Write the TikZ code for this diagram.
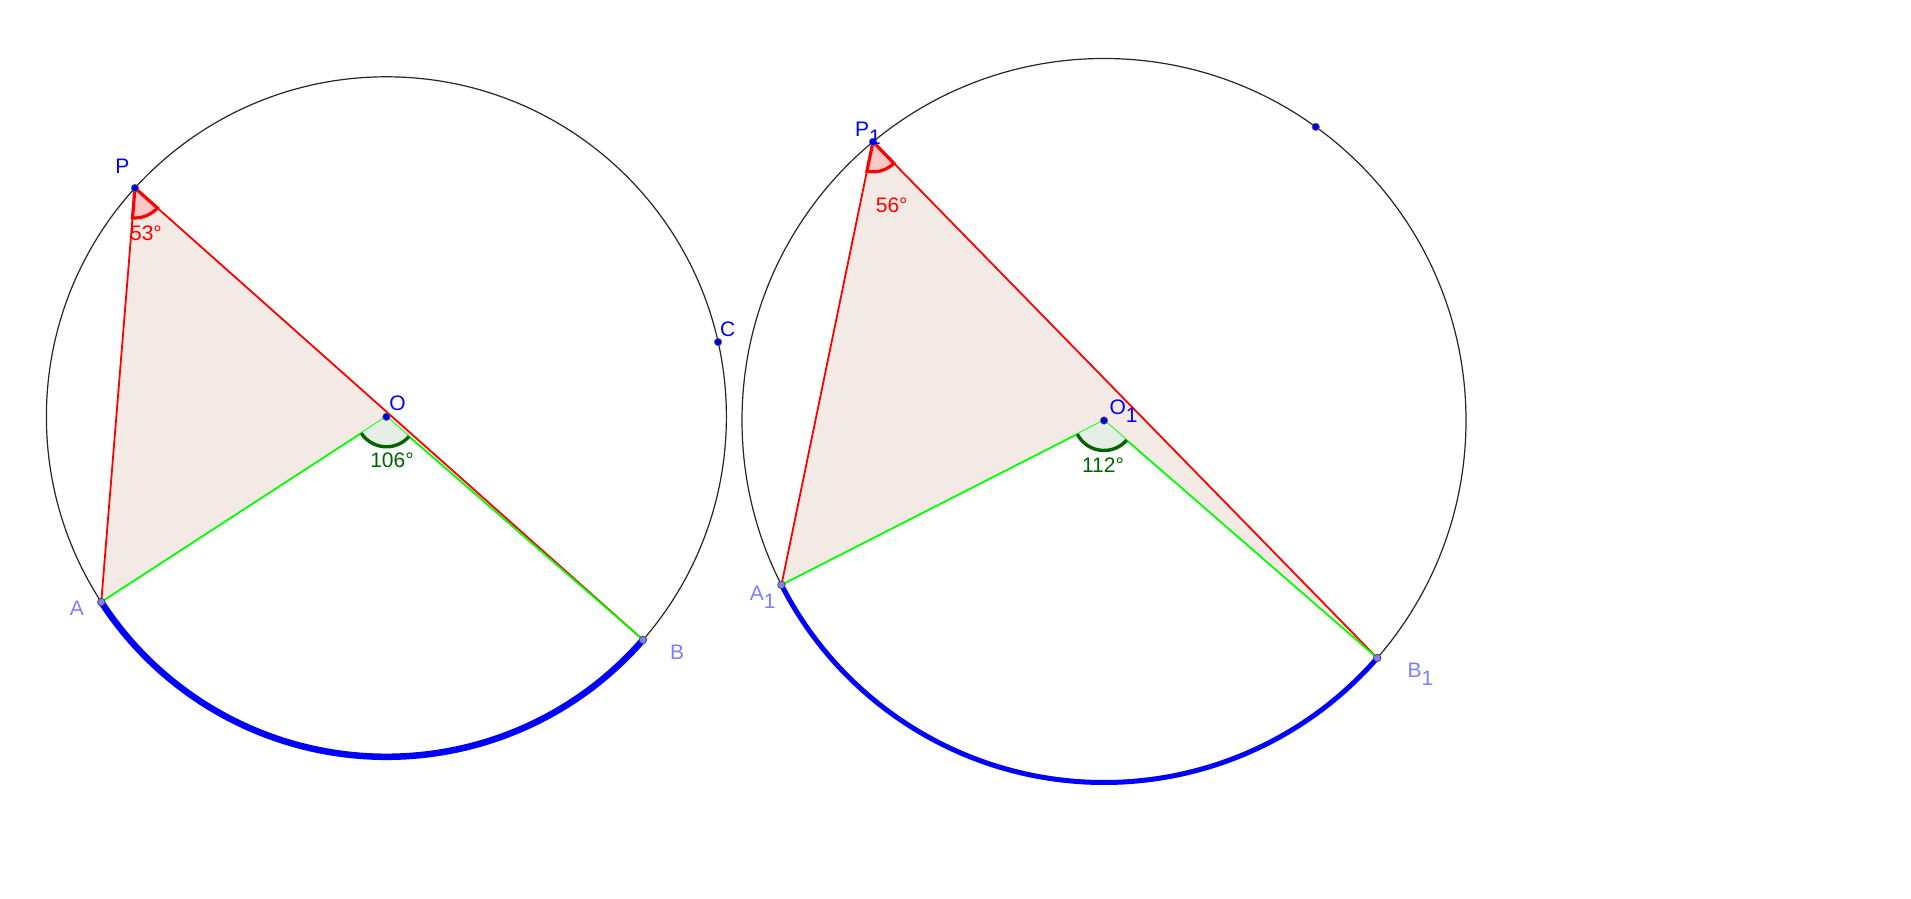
\documentclass[tikz,border=0pt]{standalone}
\usepackage{fontspec}
\setmainfont{Liberation Sans}
\usetikzlibrary{calc}
\definecolor{ptblue}{RGB}{0,0,255}
\definecolor{lblue}{RGB}{128,128,255}
\definecolor{polyfill}{RGB}{243,234,229}
\definecolor{dgreen}{RGB}{0,100,0}
\definecolor{lgreen}{RGB}{0,255,0}
\definecolor{angred}{RGB}{255,0,0}
\definecolor{arcblue}{RGB}{0,0,255}
\tikzset{
  circ/.style={line width=1.2pt, black!85},
  redseg/.style={line width=1.8pt, angred},
  greenseg/.style={line width=1.8pt, lgreen},
  bluearc/.style={line width=6.5pt, arcblue},
  redang/.style={line width=3.2pt, angred, fill=angred!22},
  greenangfill/.style={fill=dgreen!10},
  greenang/.style={line width=3.4pt, dgreen},
  darkpt/.style={circle, inner sep=0pt, minimum size=7.5pt, fill=ptblue!85!black, draw=black!60, line width=0.6pt},
  lightpt/.style={circle, inner sep=0pt, minimum size=7.5pt, fill=lblue, draw=black!70, line width=0.8pt},
  lbl/.style={inner sep=0pt, font=\fontsize{21}{25}\selectfont},
  blbl/.style={lbl, text=ptblue},
  llbl/.style={lbl, text=lblue},
}
\newcommand{\sbone}{\raisebox{-8pt}{1}}
\begin{document}
\begin{tikzpicture}[x=1pt,y=1pt]
\useasboundingbox (0,0) rectangle (1911,898);
\fill[white] (0,0) rectangle (1911,898);

% ---------- left figure ----------
\coordinate (O) at (386.4,481.2);
\coordinate (P) at ($(O)+(137.7:340)$);
\coordinate (A) at ($(O)+(213:340)$);
\coordinate (B) at ($(O)+(319:340)$);
\coordinate (C) at ($(O)+(12.7:340)$);

\fill[polyfill] (P) -- (A) -- (O) -- (B) -- cycle;
\draw[circ] (O) circle[radius=340];
\draw[redseg] (P) -- (A);
\draw[redseg] (P) -- (B);
\draw[greenseg] (O) -- (A);
\draw[greenseg] (O) -- (B);
\draw[bluearc] (A) arc[start angle=213, end angle=319, radius=340];

\draw[redang] (P) -- ++(-94.64:30) arc[start angle=-94.64, end angle=-41.65, radius=30] -- cycle;
\fill[greenangfill] (O) -- ++(213:30) arc[start angle=213, end angle=319, radius=30] -- cycle;
\draw[greenang] ($(O)+(213:30)$) arc[start angle=213, end angle=319, radius=30];

\node[lightpt] (nA) at (A) {};
\node[lightpt] (nB) at (B) {};
\node[darkpt] (nP) at (P) {};
\node[darkpt] (nO) at (O) {};
\node[darkpt] (nC) at (C) {};

\node[blbl] (lP) at (122.5,732) {P};
\node[blbl] (lO) at (397.5,495) {O};
\node[blbl] (lC) at (727.6,569) {C};
\node[llbl] (lA) at (76.8,290) {A};
\node[llbl] (lB) at (677,246) {B};
\node[lbl, text=angred] (a53) at (146,665) {53°};
\node[lbl, text=dgreen] (a106) at (392,438) {106°};

% ---------- right figure ----------
\coordinate (O1) at (1104,477.5);
\coordinate (P1) at ($(O1)+(129.66:362)$);
\coordinate (A1) at ($(O1)+(207:362)$);
\coordinate (B1) at ($(O1)+(319:362)$);
\coordinate (D1) at ($(O1)+(54.2:362)$);

\fill[polyfill] (P1) -- (A1) -- (O1) -- (B1) -- cycle;
\draw[circ] (O1) circle[radius=362];
\draw[redseg] (P1) -- (A1);
\draw[redseg] (P1) -- (B1);
\draw[greenseg] (O1) -- (A1);
\draw[greenseg] (O1) -- (B1);
\draw[bluearc, line width=5pt] (A1) arc[start angle=207, end angle=319, radius=362];

\draw[redang] (P1) -- ++(-101.66:30) arc[start angle=-101.66, end angle=-45.67, radius=30] -- cycle;
\fill[greenangfill] (O1) -- ++(207:30) arc[start angle=207, end angle=319, radius=30] -- cycle;
\draw[greenang] ($(O1)+(207:30)$) arc[start angle=207, end angle=319, radius=30];

\node[lightpt] (nA1) at (A1) {};
\node[lightpt] (nB1) at (B1) {};
\node[darkpt] (nP1) at (P1) {};
\node[darkpt] (nO1) at (O1) {};
\node[darkpt] (nD1) at (D1) {};

\node[blbl, anchor=base west] (lP1) at (855,761.3) {P\sbone};
\node[blbl, anchor=base west] (lO1) at (1109.3,483) {O\sbone};
\node[llbl, anchor=base west] (lA1) at (749.6,297.1) {A\sbone};
\node[llbl, anchor=base west] (lB1) at (1407.3,220.7) {B\sbone};
\node[lbl, text=angred] (a56) at (891.7,693) {56°};
\node[lbl, text=dgreen] (a112) at (1103,433) {112°};
\end{tikzpicture}
\end{document}
